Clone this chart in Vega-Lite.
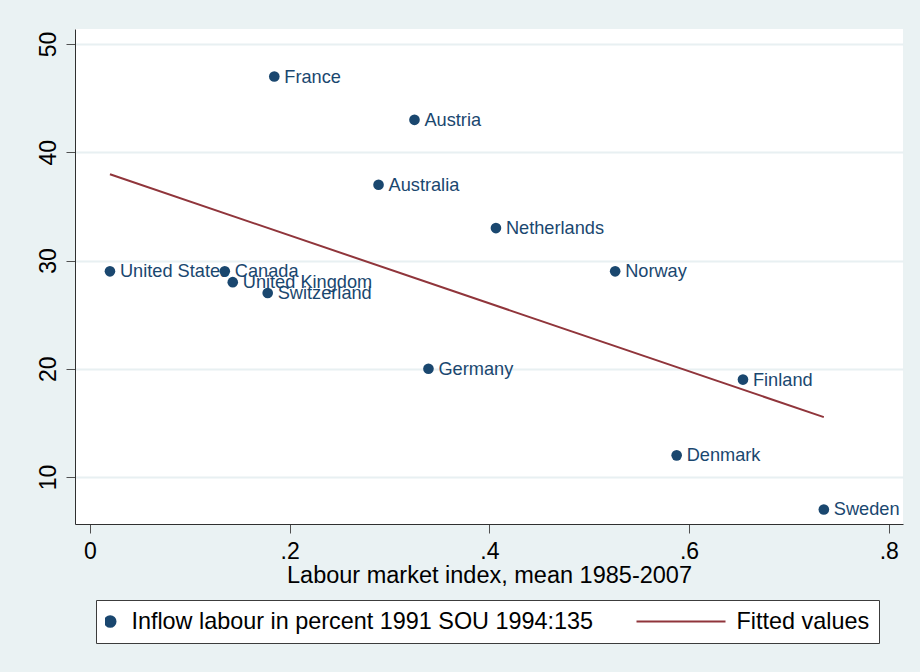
{
  "$schema": "https://vega.github.io/schema/vega-lite/v6.json",
  "width": 828,
  "height": 495,
  "autosize": {"type": "none"},
  "padding": {"left": 75, "top": 29, "right": 17, "bottom": 148},
  "background": "#eaf2f3",
  "config": {
    "view": {"fill": "white", "stroke": null},
    "font": "Liberation Sans",
    "axis": {
      "labelFontSize": 23,
      "labelColor": "#000000",
      "labelFont": "Liberation Sans",
      "titleFont": "Liberation Sans",
      "titleFontSize": 23.5,
      "titleFontWeight": "normal",
      "titleColor": "#000000",
      "domainColor": "#303030",
      "domainWidth": 1,
      "tickColor": "#505050",
      "tickWidth": 1,
      "tickSize": 9,
      "labelFlush": false,
      "labelOverlap": false
    },
    "legend": {
      "orient": "none", "legendX": 21, "legendY": 571, "direction": "horizontal",
      "padding": 9, "fillColor": "white", "strokeColor": "#3c3c3c", "cornerRadius": 0,
      "labelFontSize": 23.4, "labelColor": "#000000", "labelFont": "Liberation Sans", "labelLimit": 700,
      "labelOffset": 9.5, "symbolOffset": -6.5, "columnPadding": 42.5, "clipHeight": 25,
      "symbolStrokeWidth": 2, "symbolOpacity": 1
    }
  },
  "datasets": {
    "countries": [
      {"country": "United States", "index": 0.020, "inflow": 29},
      {"country": "Canada", "index": 0.135, "inflow": 29},
      {"country": "United Kingdom", "index": 0.143, "inflow": 28},
      {"country": "Switzerland", "index": 0.178, "inflow": 27},
      {"country": "France", "index": 0.1846, "inflow": 47},
      {"country": "Austria", "index": 0.325, "inflow": 43},
      {"country": "Australia", "index": 0.289, "inflow": 37},
      {"country": "Netherlands", "index": 0.4066, "inflow": 33},
      {"country": "Norway", "index": 0.526, "inflow": 29},
      {"country": "Germany", "index": 0.339, "inflow": 20},
      {"country": "Finland", "index": 0.654, "inflow": 19},
      {"country": "Denmark", "index": 0.5876, "inflow": 12},
      {"country": "Sweden", "index": 0.735, "inflow": 7}
    ],
    "fit": [
      {"index": 0.020, "fitted": 37.97},
      {"index": 0.735, "fitted": 15.53}
    ]
  },
  "layer": [
    {
      "data": {"name": "countries"},
      "mark": {"type": "text", "align": "left", "baseline": "middle", "dx": 10, "dy": 1, "fontSize": 18.2, "color": "#1a476f", "font": "Liberation Sans"},
      "encoding": {
        "x": {"field": "index", "type": "quantitative", "scale": {"domain": [-0.01502, 0.8143], "nice": false, "zero": false},
          "axis": {"values": [0, 0.2, 0.4, 0.6, 0.8], "format": ".1~f", "labelExpr": "replace(datum.label, '0.', '.')", "grid": false, "labelPadding": 7, "title": "Labour market index, mean 1985-2007", "titleBaseline": "alphabetic", "titleY": 58}},
        "y": {"field": "inflow", "type": "quantitative", "scale": {"domain": [5.66, 51.39], "nice": false, "zero": false},
          "axis": {"values": [10, 20, 30, 40, 50], "labelAngle": -90, "labelAlign": "center", "labelBaseline": "alphabetic", "labelPadding": 11, "grid": true, "gridColor": "#e8f0f2", "gridWidth": 2, "title": null}},
        "text": {"field": "country", "type": "nominal"}
      }
    },
    {
      "data": {"name": "fit"},
      "mark": {"type": "line", "strokeWidth": 2},
      "encoding": {
        "x": {"field": "index", "type": "quantitative"},
        "y": {"field": "fitted", "type": "quantitative"},
        "color": {
          "datum": "Fitted values",
          "scale": {"domain": ["Inflow labour in percent 1991 SOU 1994:135", "Fitted values"], "range": ["#1a476f", "#90353b"]},
          "legend": {"title": null}
        }
      }
    },
    {
      "data": {"name": "countries"},
      "mark": {"type": "point", "filled": true, "opacity": 1, "strokeWidth": 0},
      "encoding": {
        "x": {"field": "index", "type": "quantitative"},
        "y": {"field": "inflow", "type": "quantitative"},
        "color": {
          "datum": "Inflow labour in percent 1991 SOU 1994:135",
          "scale": {"domain": ["Inflow labour in percent 1991 SOU 1994:135", "Fitted values"], "range": ["#1a476f", "#90353b"]},
          "legend": {"title": null}
        },
        "size": {
          "datum": "Inflow labour in percent 1991 SOU 1994:135",
          "scale": {"domain": ["Inflow labour in percent 1991 SOU 1994:135", "Fitted values"], "range": [113, 8840]},
          "legend": {"title": null}
        },
        "shape": {
          "datum": "Inflow labour in percent 1991 SOU 1994:135",
          "scale": {"domain": ["Inflow labour in percent 1991 SOU 1994:135", "Fitted values"], "range": ["circle", "stroke"]},
          "legend": {"title": null}
        }
      }
    }
  ]
}
